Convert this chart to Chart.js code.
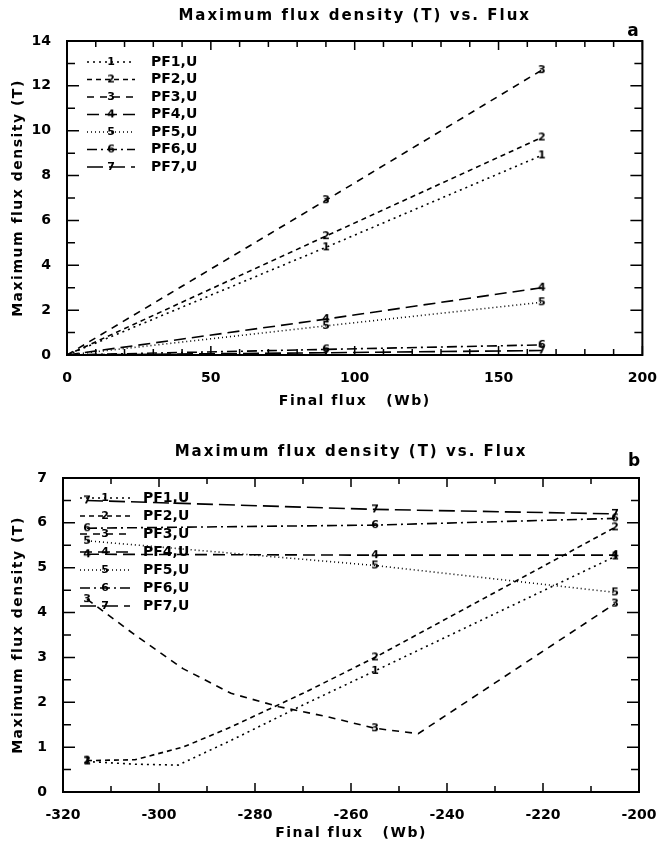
<!DOCTYPE html>
<html><head><meta charset="utf-8">
<script src="https://cdn.jsdelivr.net/npm/chart.js@4.4.1/dist/chart.umd.min.js"></script>
<style>
html,body{margin:0;padding:0;background:#fff;}
#wrap{position:relative;width:664px;height:850px;background:#fff;}
canvas{position:absolute;left:0;}
</style></head><body>
<div id="wrap">
<canvas id="ca" width="664" height="420" style="top:0px"></canvas>
<canvas id="cb" width="664" height="430" style="top:420px"></canvas>
</div>
<script>
// ---------- data ----------
const seriesLabels = ['PF1,U','PF2,U','PF3,U','PF4,U','PF5,U','PF6,U','PF7,U'];
const markerDigits = ['1','2','3','4','5','6','7'];

// panel a : final flux (Wb) and maximum flux density (T)
const fluxA = [0, 90, 165];
const aPF1 = [0, 4.8, 8.9];
const aPF2 = [0, 5.3, 9.7];
const aPF3 = [0, 6.9, 12.7];
const aPF4 = [0, 1.6, 3.0];
const aPF5 = [0, 1.3, 2.35];
const aPF6 = [0, 0.25, 0.45];
const aPF7 = [0, 0.1, 0.2];

// panel b : each series has its own flux points
const bFluxPF1 = [-315, -305, -296, -285, -270, -255, -205];
const bPF1     = [0.68, 0.62, 0.6, 1.15, 1.94, 2.7, 5.25];
const bFluxPF2 = [-315, -305, -295, -285, -270, -255, -205];
const bPF2     = [0.7, 0.72, 1.0, 1.45, 2.2, 3.0, 5.9];
const bFluxPF3 = [-315, -305, -295, -285, -275, -265, -255, -246, -205];
const bPF3     = [4.3, 3.5, 2.75, 2.2, 1.9, 1.68, 1.42, 1.3, 4.2];
const bFluxPF4 = [-315, -255, -205];
const bPF4     = [5.3, 5.28, 5.28];
const bFluxPF5 = [-315, -255, -205];
const bPF5     = [5.6, 5.05, 4.45];
const bFluxPF6 = [-315, -255, -205];
const bPF6     = [5.88, 5.95, 6.1];
const bFluxPF7 = [-315, -255, -205];
const bPF7     = [6.5, 6.3, 6.2];

const xTicksA = {min: 0, max: 200, step: 10, labelEvery: 50};
const yTicksA = {min: 0, max: 14, step: 1, labelEvery: 2};
const xTicksB = {min: -320, max: -200, step: 10, labelEvery: 20};
const yTicksB = {min: 0, max: 7, step: 0.5, labelEvery: 1};

// ---------- styles ----------
const dashes = [[2,4],[5,4],[7,6],[12,6],[1,3],[10,4,2,4],[16,6]];
const FONT = 'DejaVu Sans';

function makeMarker(d){
  const c = document.createElement('canvas');
  c.width = 10; c.height = 12;
  const g = c.getContext('2d');
  g.font = 'bold 11px "' + FONT + '"';
  g.textAlign = 'center'; g.textBaseline = 'middle'; g.fillStyle = '#000';
  g.fillText(d, 5, 6.5);
  return c;
}
const markers = markerDigits.map(makeMarker);

function pairs(xs, ys){ return xs.map((x,i)=>({x:x, y:ys[i]})); }

function datasetsFor(list, markIdx){
  return list.map((pts,i)=>({
    label: seriesLabels[i],
    data: pts,
    borderColor: '#000',
    borderWidth: 1.6,
    borderDash: dashes[i],
    fill: false,
    tension: 0,
    pointStyle: markers[i],
    pointRadius: ctx => markIdx(pts[ctx.dataIndex], ctx.dataIndex) ? 3 : 0,
  }));
}

const decorPlugin = {
  id: 'decor',
  afterDraw(chart, args, o){
    const ctx = chart.ctx, a = chart.chartArea;
    ctx.save();
    ctx.fillStyle = '#000'; ctx.strokeStyle = '#000';
    ctx.lineWidth = 2;
    ctx.strokeRect(a.left, a.top, a.right - a.left, a.bottom - a.top);
    ctx.lineWidth = 1.5;
    const xs = chart.scales.x, ys = chart.scales.y;
    xs.ticks.forEach(t=>{
      const px = xs.getPixelForValue(t.value);
      const len = (Math.abs(t.value % o.xMajor) < 1e-9) ? 9 : 6;
      ctx.beginPath();
      ctx.moveTo(px, a.bottom); ctx.lineTo(px, a.bottom - len);
      ctx.moveTo(px, a.top); ctx.lineTo(px, a.top + len);
      ctx.stroke();
    });
    ys.ticks.forEach(t=>{
      const py = ys.getPixelForValue(t.value);
      const len = (Math.abs(t.value % o.yMajor) < 1e-9) ? 12 : 8;
      ctx.beginPath();
      ctx.moveTo(a.left, py); ctx.lineTo(a.left + len, py);
      ctx.moveTo(a.right, py); ctx.lineTo(a.right - len, py);
      ctx.stroke();
    });
    ctx.textAlign = 'center'; ctx.textBaseline = 'middle';
    ctx.letterSpacing = '2px';
    ctx.font = 'bold 15px "' + FONT + '"';
    ctx.fillText(o.title, (a.left + a.right)/2, o.titleY);
    ctx.letterSpacing = '0px';
    ctx.font = 'bold 17px "' + FONT + '"';
    ctx.fillText(o.panel, o.panelX, o.panelY);
    ctx.letterSpacing = '1.5px';
    ctx.font = 'bold 14px "' + FONT + '"';
    ctx.fillText(o.xTitle, (a.left + a.right)/2, o.xTitleY);
    ctx.save();
    ctx.translate(o.yTitleX, (a.top + a.bottom)/2);
    ctx.rotate(-Math.PI/2);
    ctx.fillText(o.yTitle, 0, 0);
    ctx.restore();
    ctx.letterSpacing = '0px';
    chart.data.datasets.forEach((ds,i)=>{
      const y = o.legY + i*o.legDy;
      ctx.lineWidth = 1.6;
      ctx.setLineDash(ds.borderDash);
      ctx.beginPath(); ctx.moveTo(o.legX, y); ctx.lineTo(o.legX + o.legW, y); ctx.stroke();
      ctx.setLineDash([]);
      const m = markers[i];
      ctx.drawImage(m, o.legX + o.legW/2 - m.width/2, y - m.height/2);
      ctx.textAlign = 'left';
      ctx.font = 'bold 14px "' + FONT + '"';
      ctx.fillText(ds.label, o.legTextX, y);
    });
    ctx.restore();
  }
};

function axis(t, size, isX){
  return {
    type: 'linear', min: t.min, max: t.max,
    grid: {display: false}, border: {display: false},
    ticks: {
      stepSize: t.step, autoSkip: false, maxRotation: 0, color: '#000',
      padding: isX ? 7 : 8,
      font: {family: FONT, weight: 'bold', size: 14},
      callback: v => (Math.abs(v % t.labelEvery) < 1e-9) ? String(v) : ''
    },
    afterFit: s => { if (isX) s.height = size; else s.width = size; }
  };
}

function makeChart(id, datasets, L, xt, yt, decor){
  return new Chart(document.getElementById(id), {
    type: 'line',
    data: {datasets: datasets},
    options: {
      responsive: false, animation: false, devicePixelRatio: 1,
      layout: {padding: {left: 0, right: L.padRight, top: L.padTop, bottom: 0}},
      plugins: {legend: {display: false}, tooltip: {enabled: false}, decor: decor},
      scales: { x: axis(xt, L.xHeight, true), y: axis(yt, L.yWidth, false) }
    },
    plugins: [decorPlugin]
  });
}

// panel a
const dsA = datasetsFor([aPF1,aPF2,aPF3,aPF4,aPF5,aPF6,aPF7].map(ys => pairs(fluxA, ys)),
  (p, i) => i > 0);
makeChart('ca', dsA, {padRight: 13, padTop: 41, xHeight: 65, yWidth: 67}, xTicksA, yTicksA, {
  title: 'Maximum flux density (T) vs. Flux', titleY: 16, panel: 'a', panelX: 633, panelY: 32,
  xTitle: 'Final flux   (Wb)', xTitleY: 401, yTitle: 'Maximum flux density (T)', yTitleX: 18,
  xMajor: 50, yMajor: 2,
  legX: 87, legW: 48, legY: 62, legDy: 17.5, legTextX: 151
});

// panel b
const dsB = datasetsFor([
  pairs(bFluxPF1,bPF1), pairs(bFluxPF2,bPF2), pairs(bFluxPF3,bPF3), pairs(bFluxPF4,bPF4),
  pairs(bFluxPF5,bPF5), pairs(bFluxPF6,bPF6), pairs(bFluxPF7,bPF7)],
  (p, i) => p.x === -315 || p.x === -255 || p.x === -205);
makeChart('cb', dsB, {padRight: 25, padTop: 58, xHeight: 58, yWidth: 63}, xTicksB, yTicksB, {
  title: 'Maximum flux density (T) vs. Flux', titleY: 32, panel: 'b', panelX: 634, panelY: 42,
  xTitle: 'Final flux   (Wb)', xTitleY: 413, yTitle: 'Maximum flux density (T)', yTitleX: 18,
  xMajor: 20, yMajor: 1,
  legX: 80, legW: 50, legY: 78, legDy: 18, legTextX: 143
});
</script>
</body></html>
